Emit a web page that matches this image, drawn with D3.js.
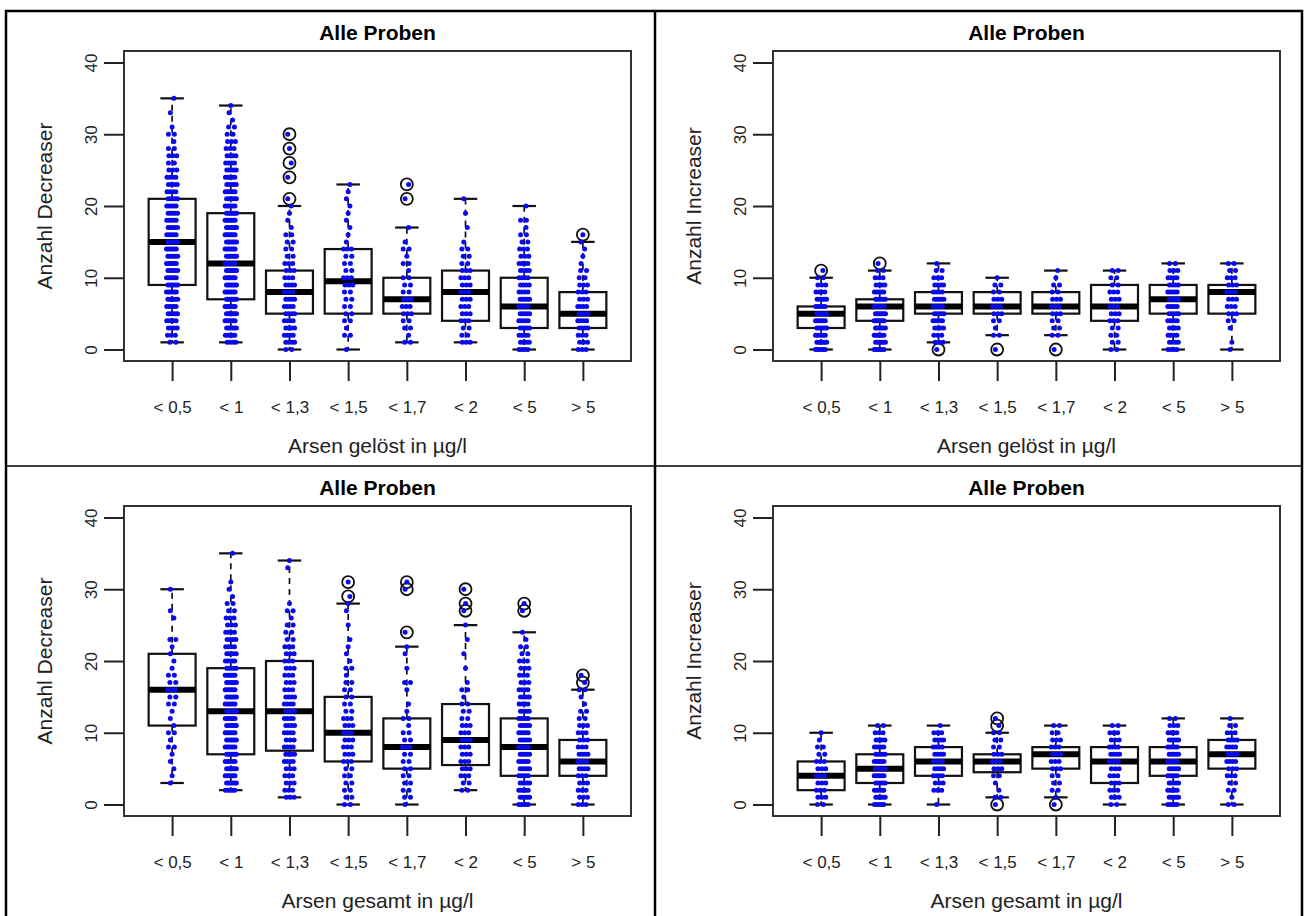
<!DOCTYPE html>
<html>
<head>
<meta charset="utf-8">
<script src="https://cdn.jsdelivr.net/npm/d3@7/dist/d3.min.js"></script>
<style>
  html, body { margin: 0; padding: 0; background: #fff; }
  svg { display: block; }
  text { font-family: "Liberation Sans", Arial, Helvetica, sans-serif; }
</style>
</head>
<body>
<svg id="chart" width="1304" height="916"></svg>
<script>
// ---------- shared labels ----------
const categories = ["< 0,5", "< 1", "< 1,3", "< 1,5", "< 1,7", "< 2", "< 5", "> 5"];
const yTicks = [0, 10, 20, 30, 40];
const panelTitles = ["Alle Proben", "Alle Proben", "Alle Proben", "Alle Proben"];
const yTitles = ["Anzahl Decreaser", "Anzahl Increaser", "Anzahl Decreaser", "Anzahl Increaser"];
const xTitles = ["Arsen gelöst in µg/l", "Arsen gelöst in µg/l", "Arsen gesamt in µg/l", "Arsen gesamt in µg/l"];

// ---------- panel 1: Decreaser, Arsen gelöst ----------
const decGelLow  = [1, 1, 0, 0, 1, 1, 0, 0];
const decGelQ1   = [9, 7, 5, 5, 5, 4, 3, 3];
const decGelMed  = [15, 12, 8, 9.5, 7, 8, 6, 5];
const decGelQ3   = [21, 19, 11, 14, 10, 11, 10, 8];
const decGelHigh = [35, 34, 20, 23, 17, 21, 20, 15];
const decGelOut  = [[], [], [21, 24, 26, 28, 30], [], [21, 23], [], [], [16]];
// number of samples at value 0,1,2,... per category
const decGelCounts = [
  [0,2,3,4,5,5,5,6,6,6,6,6,6,6,6,6,5,5,5,5,5,5,4,4,4,3,2,3,2,1,2,1,0,1,0,1],
  [0,4,5,6,7,7,7,7,7,7,7,7,7,7,7,7,7,7,7,7,6,6,6,5,5,5,4,4,3,3,2,2,1,1,1],
  [2,4,4,4,4,4,4,4,4,4,3,3,3,2,2,2,2,1,1,1,1,1,0,0,1,0,1,0,1,0,1],
  [1,0,2,1,2,2,2,2,2,3,3,2,2,2,3,1,1,1,1,1,1,1,1,1],
  [0,2,1,2,2,3,3,3,2,2,2,1,2,1,2,1,0,1,0,0,0,1,0,1],
  [0,3,2,2,3,3,3,3,3,3,3,3,2,2,2,1,0,1,0,1,0,1],
  [4,4,4,5,5,5,5,5,4,4,4,4,4,3,3,2,2,1,2,0,1],
  [3,3,3,4,4,4,4,3,3,3,2,2,1,1,1,1,1]
];

// ---------- panel 2: Increaser, Arsen gelöst ----------
const incGelLow  = [0, 0, 1, 2, 2, 0, 0, 0];
const incGelQ1   = [3, 4, 5, 5, 5, 4, 5, 5];
const incGelMed  = [5, 6, 6, 6, 6, 6, 7, 8];
const incGelQ3   = [6, 7, 8, 8, 8, 9, 9, 9];
const incGelHigh = [10, 11, 12, 10, 11, 11, 12, 12];
const incGelOut  = [[11], [12], [0], [0], [0], [], [], []];
const incGelCounts = [
  [6,6,6,6,6,6,5,5,4,3,2,1],
  [6,6,6,6,7,7,7,6,5,4,3,2,1],
  [1,3,3,4,5,5,5,5,4,4,3,2,1],
  [1,0,2,1,2,3,3,3,2,2,1],
  [1,0,2,2,2,3,3,3,2,2,1,1],
  [2,2,2,2,3,3,3,3,3,2,2,2],
  [4,4,4,4,5,5,5,5,5,4,4,3,2],
  [1,1,0,1,2,3,3,3,4,3,3,2,2]
];

// ---------- panel 3: Decreaser, Arsen gesamt ----------
const decGesLow  = [3, 2, 1, 0, 0, 2, 0, 0];
const decGesQ1   = [11, 7, 7.5, 6, 5, 5.5, 4, 4];
const decGesMed  = [16, 13, 13, 10, 8, 9, 8, 6];
const decGesQ3   = [21, 19, 20, 15, 12, 14, 12, 9];
const decGesHigh = [30, 35, 34, 28, 22, 25, 24, 16];
const decGesOut  = [[], [], [], [29, 31], [24, 30, 31], [27, 28, 30], [27, 28], [17, 18]];
const decGesCounts = [
  [0,0,0,1,1,1,1,1,2,1,2,1,1,1,2,2,3,2,2,1,1,1,1,2,0,0,1,1,0,0,1],
  [0,0,5,6,6,6,6,6,6,6,6,6,6,6,6,6,6,6,6,5,5,5,4,4,4,3,3,2,2,1,1,1,0,0,0,1],
  [0,3,3,3,3,3,4,4,4,3,4,4,4,4,4,4,3,3,3,3,3,3,3,2,2,2,1,2,1,0,0,0,0,1,1],
  [2,2,2,2,2,2,3,3,3,3,3,3,3,2,2,2,2,2,1,2,1,1,1,1,0,1,0,1,1,1,0,1],
  [1,2,2,2,2,2,2,2,3,2,2,1,2,1,1,0,1,2,0,1,0,1,1,0,1,0,0,0,0,0,1,1],
  [0,0,2,2,3,3,3,3,3,3,3,3,2,2,2,1,2,1,0,1,0,1,0,1,0,1,0,1,1,0,1],
  [5,5,5,5,5,5,5,5,5,5,5,5,5,4,4,4,4,3,3,3,3,2,2,1,1,0,0,1,1],
  [3,3,3,3,3,4,4,4,3,3,3,3,2,2,1,1,2,1,1]
];

// ---------- panel 4: Increaser, Arsen gesamt ----------
const incGesLow  = [0, 0, 0, 1, 1, 0, 0, 0];
const incGesQ1   = [2, 3, 4, 4.5, 5, 3, 4, 5];
const incGesMed  = [4, 5, 6, 6, 7, 6, 6, 7];
const incGesQ3   = [6, 7, 8, 7, 8, 8, 8, 9];
const incGesHigh = [10, 11, 11, 10, 11, 11, 12, 12];
const incGesOut  = [[], [], [], [0, 11, 12], [0], [], [], []];
const incGesCounts = [
  [2,3,3,3,3,3,3,2,2,1,1],
  [5,5,5,5,6,6,6,5,5,4,3,2],
  [1,0,3,3,4,4,4,4,4,4,3,1],
  [1,2,1,1,2,3,3,3,2,2,2,1,1],
  [1,1,2,2,2,3,3,3,3,3,2,2],
  [2,3,3,3,3,3,4,4,4,3,3,2],
  [5,5,5,5,5,5,6,5,5,5,4,3,2],
  [2,1,2,2,3,3,4,4,4,4,3,2,1]
];

// ---------- panel assembly ----------
const panels = [
  { ox: 0,   oy: 0,   low: decGelLow, q1: decGelQ1, med: decGelMed, q3: decGelQ3, high: decGelHigh, out: decGelOut, counts: decGelCounts },
  { ox: 649, oy: 0,   low: incGelLow, q1: incGelQ1, med: incGelMed, q3: incGelQ3, high: incGelHigh, out: incGelOut, counts: incGelCounts },
  { ox: 0,   oy: 455, low: decGesLow, q1: decGesQ1, med: decGesMed, q3: decGesQ3, high: decGesHigh, out: decGesOut, counts: decGesCounts },
  { ox: 649, oy: 455, low: incGesLow, q1: incGesQ1, med: incGesMed, q3: incGesQ3, high: incGesHigh, out: incGesOut, counts: incGesCounts }
];

const svg = d3.select("#chart");
svg.append("rect").attr("width", 1304).attr("height", 916).attr("fill", "#fff");

// plot region (R style: x from 0.5 to 8.5 with 4% expansion, y 0..40 with 4% expansion)
const plotL = 124, plotR = 631, plotT = 51, plotB = 361;
const x = d3.scaleLinear().domain([0.18, 8.82]).range([plotL, plotR]);
const y = d3.scaleLinear().domain([-1.6, 41.6]).range([plotB, plotT]);
const boxHalf = 0.4, stapleHalf = 0.2, jitterHalf = 0.1;

panels.forEach((p, pi) => {
  const g = svg.append("g").attr("transform", `translate(${p.ox},${p.oy})`);

  // boxes
  categories.forEach((c, i) => {
    const cx = i + 1;
    const bg = g.append("g");
    // whiskers (dashed)
    bg.append("line").attr("x1", x(cx)).attr("x2", x(cx)).attr("y1", y(p.q3[i])).attr("y2", y(p.high[i]))
      .attr("stroke", "#111").attr("stroke-width", 1.7).attr("stroke-dasharray", "6,5");
    bg.append("line").attr("x1", x(cx)).attr("x2", x(cx)).attr("y1", y(p.q1[i])).attr("y2", y(p.low[i]))
      .attr("stroke", "#111").attr("stroke-width", 1.7).attr("stroke-dasharray", "6,5");
    // staples
    [p.high[i], p.low[i]].forEach(v => {
      bg.append("line").attr("x1", x(cx - stapleHalf)).attr("x2", x(cx + stapleHalf)).attr("y1", y(v)).attr("y2", y(v))
        .attr("stroke", "#111").attr("stroke-width", 2.2);
    });
    // box
    bg.append("rect").attr("x", x(cx - boxHalf)).attr("width", x(cx + boxHalf) - x(cx - boxHalf))
      .attr("y", y(p.q3[i])).attr("height", y(p.q1[i]) - y(p.q3[i]))
      .attr("fill", "#fff").attr("stroke", "#111").attr("stroke-width", 2.2);
    // median
    bg.append("line").attr("x1", x(cx - boxHalf)).attr("x2", x(cx + boxHalf)).attr("y1", y(p.med[i])).attr("y2", y(p.med[i]))
      .attr("stroke", "#000").attr("stroke-width", 6);
    // outliers
    p.out[i].forEach(v => {
      bg.append("circle").attr("cx", x(cx)).attr("cy", y(v)).attr("r", 6)
        .attr("fill", "none").attr("stroke", "#111").attr("stroke-width", 1.8);
    });
  });

  // jittered points
  const pts = [];
  p.counts.forEach((arr, i) => {
    arr.forEach((n, v) => {
      for (let k = 0; k < n; k++) {
        const off = n === 1 ? ((v % 3) - 1) * 0.03 : jitterHalf * ((2 * k + 1) / n - 1) + ((v % 2) ? 0.012 : -0.012);
        pts.push({ cx: i + 1 + off, v: v });
      }
    });
  });
  g.append("g").selectAll("circle").data(pts).join("circle")
    .attr("cx", d => x(d.cx)).attr("cy", d => y(d.v)).attr("r", 2.5)
    .attr("fill", "#0a0aee");

  // frame
  g.append("rect").attr("x", plotL).attr("y", plotT).attr("width", plotR - plotL).attr("height", plotB - plotT)
    .attr("fill", "none").attr("stroke", "#333").attr("stroke-width", 2);

  // y axis
  const ya = g.append("g").attr("transform", `translate(${plotL},0)`)
    .call(d3.axisLeft(y).tickValues(yTicks).tickSize(20).tickSizeOuter(0).tickFormat(d3.format("d")));
  ya.select(".domain").remove();
  ya.selectAll(".tick line").attr("stroke", "#222").attr("stroke-width", 2);
  ya.selectAll(".tick text").attr("x", null).attr("dy", null)
    .attr("transform", "translate(-33,0) rotate(-90)").attr("text-anchor", "middle").attr("dy", "0.36em")
    .attr("font-size", 17).attr("fill", "#222");

  // x axis
  const xa = g.append("g").attr("transform", `translate(0,${plotB})`)
    .call(d3.axisBottom(x).tickValues(d3.range(1, 9)).tickSize(20).tickPadding(20).tickSizeOuter(0)
      .tickFormat(d => categories[d - 1]));
  xa.select(".domain").remove();
  xa.selectAll(".tick line").attr("stroke", "#222").attr("stroke-width", 2);
  xa.selectAll(".tick text").attr("font-size", 17).attr("fill", "#222");

  // titles
  const midX = (plotL + plotR) / 2;
  g.append("text").attr("x", midX).attr("y", 40).attr("text-anchor", "middle")
    .attr("font-size", 21).attr("font-weight", "bold").attr("fill", "#000").text(panelTitles[pi]);
  g.append("text").attr("x", midX).attr("y", 453).attr("text-anchor", "middle")
    .attr("font-size", 21).attr("fill", "#222").text(xTitles[pi]);
  g.append("text").attr("transform", `translate(52,${(plotT + plotB) / 2}) rotate(-90)`).attr("text-anchor", "middle")
    .attr("font-size", 21).attr("fill", "#222").text(yTitles[pi]);
});

// outer table frame
const frame = svg.append("g").attr("stroke", "#000").attr("fill", "none");
frame.append("line").attr("x1", 5).attr("x2", 1303).attr("y1", 11).attr("y2", 11).attr("stroke-width", 2.5);
frame.append("line").attr("x1", 6).attr("x2", 6).attr("y1", 10).attr("y2", 916).attr("stroke-width", 2.5);
frame.append("line").attr("x1", 1302).attr("x2", 1302).attr("y1", 10).attr("y2", 916).attr("stroke-width", 2.5);
frame.append("line").attr("x1", 655).attr("x2", 655).attr("y1", 10).attr("y2", 916).attr("stroke-width", 2.5);
frame.append("line").attr("x1", 6).attr("x2", 1302).attr("y1", 466).attr("y2", 466).attr("stroke-width", 1.3);
</script>
</body>
</html>
